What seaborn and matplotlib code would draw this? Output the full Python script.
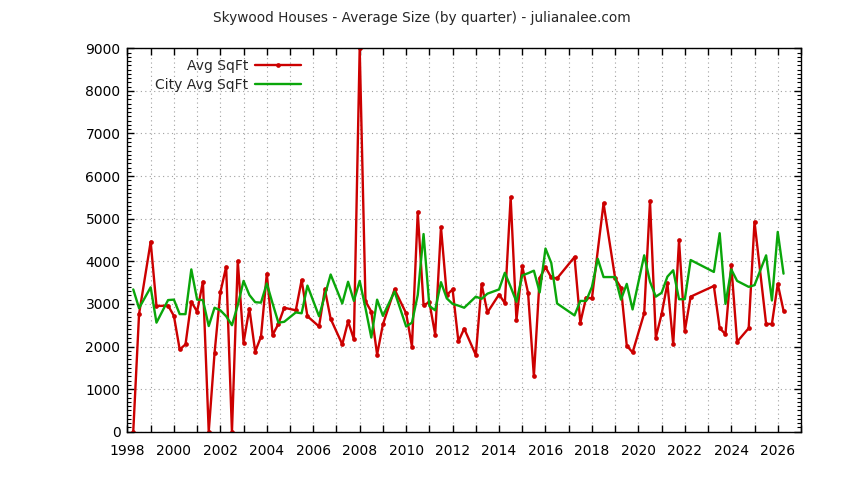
import numpy as np
import pandas as pd
import matplotlib
matplotlib.use("Agg")
import matplotlib.pyplot as plt
import seaborn as sns
from matplotlib.ticker import MultipleLocator, FuncFormatter

# quarterly averages (NaN = no sale that quarter)
quarters = [
    "1998Q1", "1998Q2", "1998Q4", "1999Q1", "1999Q3", "1999Q4",
    "2000Q1", "2000Q2", "2000Q3", "2000Q4",
    "2001Q1", "2001Q2", "2001Q3", "2001Q4",
    "2002Q1", "2002Q2", "2002Q3", "2002Q4",
    "2003Q1", "2003Q2", "2003Q3", "2003Q4",
    "2004Q1", "2004Q2", "2004Q3",
    "2005Q1", "2005Q2", "2005Q3",
    "2006Q1", "2006Q2", "2006Q3",
    "2007Q1", "2007Q2", "2007Q3", "2007Q4",
    "2008Q1", "2008Q2", "2008Q3", "2008Q4",
    "2009Q2", "2009Q4",
    "2010Q1", "2010Q2", "2010Q3", "2010Q4",
    "2011Q1", "2011Q2", "2011Q3", "2011Q4",
    "2012Q1", "2012Q2", "2012Q4",
    "2013Q1", "2013Q2", "2013Q4",
    "2014Q1", "2014Q2", "2014Q3", "2014Q4",
    "2015Q1", "2015Q2", "2015Q3", "2015Q4",
    "2016Q1", "2016Q2",
    "2017Q1", "2017Q2", "2017Q3", "2017Q4",
    "2018Q1", "2018Q2", "2018Q4",
    "2019Q1", "2019Q2", "2019Q3",
    "2020Q1", "2020Q2", "2020Q3", "2020Q4",
    "2021Q1", "2021Q2", "2021Q3", "2021Q4",
    "2022Q1",
    "2023Q1", "2023Q2", "2023Q3", "2023Q4",
    "2024Q1", "2024Q3", "2024Q4",
    "2025Q2", "2025Q3", "2025Q4",
    "2026Q1",
]

avg_sqft = [
    0, 2760, 4460, 2950, 2960, 2720,
    1930, 2050, 3050, 2820,
    3520, 0, 1840, 3270,
    3870, 0, 4010, 2090,
    2890, 1880, 2230, 3710,
    2270, 2530, 2910,
    2850, 3560, 2710,
    2470, 3340, 2650,
    2050, 2590, 2170, 9000,
    3060, 2820, 1810, 2520,
    3340, 2780,
    2000, 5150, 2970, 3040,
    2280, 4800, 3210, 3340,
    2120, 2420, 1800,
    3460, 2800, 3220,
    3020, 5500, 2620, 3880,
    3260, 1300, 3610, 3860,
    3620, 3600,
    4100, 2560, 3150, 3130,
    np.nan, 5360, 3600,
    3380, 2020, 1860,
    2780, 5410, 2210, 2760,
    3480, 2050, 4490, 2370,
    3170,
    3420, 2430, 2290, 3910,
    2110, 2430, 4930,
    2530, 2530, 3470,
    2840,
]

city_avg_sqft = [
    3340, 2900, 3390, 2560, 3090, 3100,
    2760, 2760, 3810, 3100,
    3090, 2480, 2910, 2850,
    2710, 2500, 2970, 3540,
    3210, 3040, 3030, 3480,
    3010, 2560, 2580,
    2800, 2780, 3430,
    2710, 3200, 3690,
    3010, 3520, 3070, 3540,
    2900, 2210, 3100, 2720,
    3290, 2470,
    2560, 3210, 4640, 2950,
    2850, 3510, 3130, 3000,
    2960, 2910, 3170,
    3120, 3240, 3340,
    3730, 3400, 3050, 3670,
    3720, 3780, 3270, 4300,
    3960, 3010,
    2730, 3070, 3070, 3400,
    4060, 3630, 3630,
    3100, 3470, 2870,
    4140, 3520, 3170, 3260,
    3640, 3790, 3110, 3110,
    4030,
    3750, 4660, 3000, 3810,
    3540, 3400, 3440,
    4140, 3080, 4690,
    3710,
]

per = pd.PeriodIndex(quarters, freq="Q")
df = pd.DataFrame({
    "Year": per.year + per.quarter / 4,
    "Avg SqFt": avg_sqft,
    "City Avg SqFt": city_avg_sqft,
})

sns.set_style("ticks")
plt.rcParams["font.family"] = ["DejaVu Sans"]

fig = plt.figure(figsize=(8.44, 4.8), dpi=100)
ax = fig.add_axes([0.151, 0.1006, 0.798, 0.7988])

red = "#cc0000"
green = "#0aa60a"

d1 = df.dropna(subset=["Avg SqFt"])
sns.lineplot(x="Year", y="Avg SqFt", data=d1, ax=ax, color=red, linewidth=1.7,
             marker="o", markersize=3.4, markeredgewidth=0, label="Avg SqFt")
sns.lineplot(x="Year", y="City Avg SqFt", data=df, ax=ax, color=green,
             linewidth=1.7, label="City Avg SqFt")

ax.set_xlim(1998, 2027)
ax.set_ylim(0, 9000)
ax.set_xlabel("")
ax.set_ylabel("")

ax.xaxis.set_major_locator(MultipleLocator(1))
ax.xaxis.set_major_formatter(FuncFormatter(
    lambda v, p: str(int(round(v))) if int(round(v)) % 2 == 0 else ""))
ax.yaxis.set_major_locator(MultipleLocator(1000))
ax.yaxis.set_minor_locator(MultipleLocator(100))

ax.tick_params(axis="both", which="both", direction="in",
               top=True, right=True, labelsize=10, colors="black")
ax.tick_params(axis="both", which="major", length=5, width=1)
ax.tick_params(axis="x", which="major", pad=9)
ax.tick_params(axis="y", which="major", pad=5)
ax.tick_params(axis="y", which="minor", length=3, width=0.8)

ax.grid(True, which="major", color="#a0a0a0", linestyle=(0, (1, 3)),
        linewidth=0.8)
for s in ax.spines.values():
    s.set_color("black")
    s.set_linewidth(1)

ax.legend(loc="upper left", bbox_to_anchor=(0.041, 0.972), frameon=False,
          markerfirst=False, handlelength=3.3, handletextpad=0.5,
          labelspacing=0.38, borderpad=0, borderaxespad=0, fontsize=10)

fig.text(0.5, 0.9625, "Skywood Houses - Average Size (by quarter) - julianalee.com",
         ha="center", va="center", fontsize=9.8)

fig.savefig("out.png", dpi=100)
